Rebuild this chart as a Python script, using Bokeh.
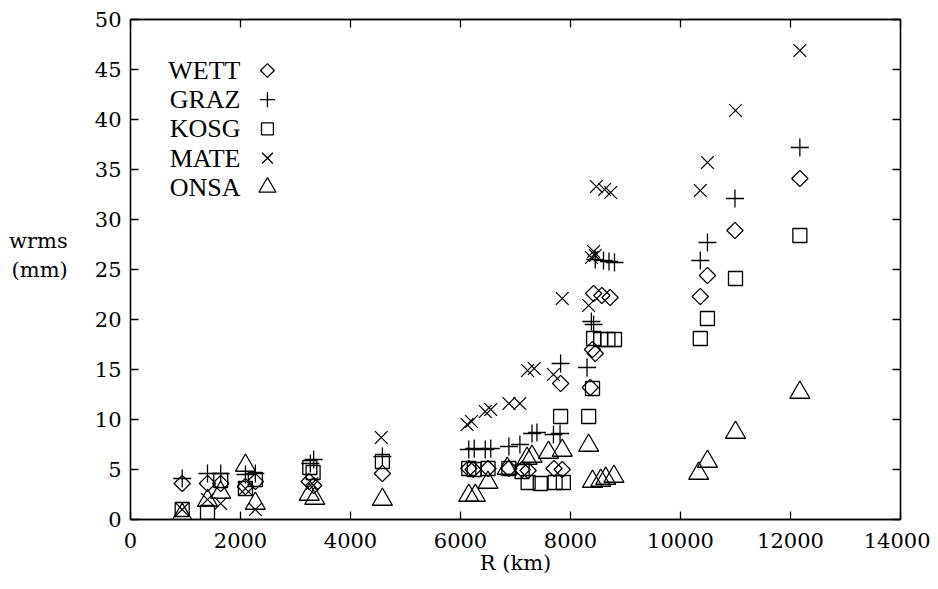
import numpy as np
from bokeh.plotting import figure
from bokeh.models import LinearAxis, FixedTicker, Label, ColumnDataSource
from bokeh.embed import file_html
from bokeh.resources import INLINE

# ---------------- data (R in km, wrms in mm) ----------------
x_ticks = [0, 2000, 4000, 6000, 8000, 10000, 12000, 14000]
y_ticks = [0, 5, 10, 15, 20, 25, 30, 35, 40, 45, 50]

wett_x = [940, 1400, 1640, 2090, 2270, 3250, 3330, 4580, 6150, 6230, 6500, 6880, 7120,
          7230, 7700, 7850, 7820, 8360, 8400, 8450, 8420, 8570, 8720, 10360, 10490, 10990, 12170]
wett_y = [3.6, 3.6, 3.6, 3.3, 3.8, 3.8, 3.4, 4.6, 5.1, 5.0, 5.1, 5.1, 5.0,
          4.9, 5.1, 5.0, 13.6, 13.2, 17.0, 16.6, 22.6, 22.4, 22.2, 22.3, 24.4, 28.9, 34.1]

graz_x = [940, 1400, 1640, 2090, 2270, 3270, 3330, 4580, 6150, 6250, 6450, 6550, 6880, 7080,
          7300, 7390, 7690, 7810, 7820, 8300, 8380, 8420, 8450, 8600, 8700, 8800,
          10360, 10490, 10990, 12170]
graz_y = [4.1, 4.6, 4.6, 4.5, 4.6, 5.6, 6.0, 6.3, 7.0, 7.1, 7.0, 7.1, 7.3, 7.5,
          8.6, 8.7, 8.5, 8.6, 15.6, 15.2, 19.8, 19.5, 26.0, 25.9, 25.8, 25.7,
          25.9, 27.7, 32.1, 37.2]

kosg_x = [940, 1400, 1640, 2090, 2270, 3260, 3320, 4580, 6150, 6250, 6500, 6880, 7120,
          7230, 7450, 7720, 7870, 7820, 8330, 8400, 8420, 8550, 8680, 8800,
          10360, 10490, 11000, 12170]
kosg_y = [1.0, 0.7, 3.9, 3.1, 4.0, 5.2, 4.7, 5.8, 5.1, 5.0, 5.1, 5.1, 4.8,
          3.7, 3.6, 3.7, 3.7, 10.3, 10.3, 13.1, 18.1, 18.0, 18.0, 18.0,
          18.1, 20.1, 24.1, 28.4]

mate_x = [940, 1400, 1640, 2090, 2270, 3300, 4560, 6120, 6200, 6450, 6550, 6880, 7080,
          7220, 7340, 7690, 7850, 8330, 8380, 8420, 8450, 8470, 8620, 8730,
          10360, 10490, 11000, 12170]
mate_y = [1.0, 2.0, 1.6, 3.1, 1.0, 3.6, 8.2, 9.5, 9.8, 10.8, 11.0, 11.6, 11.6,
          14.9, 15.1, 14.5, 22.1, 21.4, 26.2, 26.8, 26.4, 33.3, 33.0, 32.7,
          32.9, 35.7, 40.9, 46.9]

onsa_x = [940, 1400, 1640, 2090, 2270, 3250, 3350, 4580, 6150, 6270, 6500, 6850, 7210,
          7300, 7600, 7850, 8330, 8400, 8550, 8640, 8790, 10330, 10490, 11000, 12170]
onsa_y = [0.5, 1.9, 2.7, 5.4, 1.6, 2.5, 2.1, 2.0, 2.4, 2.4, 3.7, 5.1, 6.1,
          6.3, 6.7, 6.9, 7.4, 3.8, 3.9, 4.1, 4.3, 4.6, 5.8, 8.7, 12.7]

series_names = ["WETT", "GRAZ", "KOSG", "MATE", "ONSA"]

# ---------------- styles ----------------
FONT = "Liberation Serif"
FS = "26px"
AX_FONT = "DejaVu Serif"
AX_FS = "21px"
LW = 1.3
styles = {
    "WETT": dict(marker="square", size=11.5, angle=np.pi / 4),
    "GRAZ": dict(marker="cross", size=18, angle=0.0),
    "KOSG": dict(marker="square", size=14, angle=0.0),
    "MATE": dict(marker="x", size=18, angle=0.0),
    "ONSA": dict(marker="triangle", size=20, angle=0.0),
}
data = {
    "WETT": (wett_x, wett_y),
    "GRAZ": (graz_x, graz_y),
    "KOSG": (kosg_x, kosg_y),
    "MATE": (mate_x, mate_y),
    "ONSA": (onsa_x, onsa_y),
}

p = figure(frame_width=770, frame_height=500,
           x_range=(0, 14000), y_range=(0, 50),
           x_axis_type=None, y_axis_type=None,
           output_backend="svg", toolbar_location=None,
           min_border_left=130, min_border_right=30,
           min_border_top=19, min_border_bottom=62)
p.xgrid.visible = False
p.ygrid.visible = False
p.outline_line_color = "black"
p.outline_line_width = LW
p.background_fill_color = "white"
p.border_fill_color = "white"


def make_axis(ticks, labelled):
    ax = LinearAxis(ticker=FixedTicker(ticks=ticks),
                    major_label_text_font=AX_FONT,
                    major_label_text_font_size=AX_FS,
                    axis_label_text_font=AX_FONT,
                    axis_label_text_font_size=AX_FS,
                    axis_label_text_font_style="normal",
                    axis_label_text_color="black",
                    major_label_text_color="black")
    ax.major_tick_in = 8
    ax.major_tick_out = 0
    ax.minor_tick_line_color = None
    ax.axis_line_color = "black"
    ax.axis_line_width = LW
    ax.major_tick_line_color = "black"
    ax.major_tick_line_width = LW
    if not labelled:
        ax.major_label_overrides = {t: "" for t in ticks}
        ax.major_label_standoff = 0
    return ax


xb = make_axis(x_ticks, True)
xb.major_label_standoff = 13
xb.axis_label = "R (km)"
xb.axis_label_standoff = 0
p.add_layout(xb, "below")

yl = make_axis(y_ticks, True)
yl.major_label_standoff = 9
yl.axis_label = "wrms\n(mm)\n "
yl.axis_label_standoff = 24
if "axis_label_orientation" in yl.properties():
    yl.axis_label_orientation = "horizontal"
p.add_layout(yl, "left")

p.add_layout(make_axis(x_ticks, False), "above")
p.add_layout(make_axis(y_ticks, False), "right")

# data markers
for name in series_names:
    xs, ys = data[name]
    st = styles[name]
    src = ColumnDataSource(dict(x=xs, y=ys))
    p.scatter("x", "y", source=src, marker=st["marker"], size=st["size"], angle=st["angle"],
              fill_color=None, line_color="black", line_width=LW)

# legend (text left, symbol right)
leg_text_x = 2000
leg_mark_x = 2490
leg_top = 44.9
leg_step = 2.92
for i, name in enumerate(series_names):
    yy = leg_top - i * leg_step
    p.add_layout(Label(x=leg_text_x, y=yy, text=name, text_font=FONT, text_font_size=FS,
                       text_align="right", text_baseline="middle", text_color="black"))
    st = styles[name]
    p.scatter([leg_mark_x], [yy], marker=st["marker"], size=st["size"] * 0.85, angle=st["angle"],
              fill_color=None, line_color="black", line_width=LW)

open("out.html", "w").write(file_html(p, INLINE))
